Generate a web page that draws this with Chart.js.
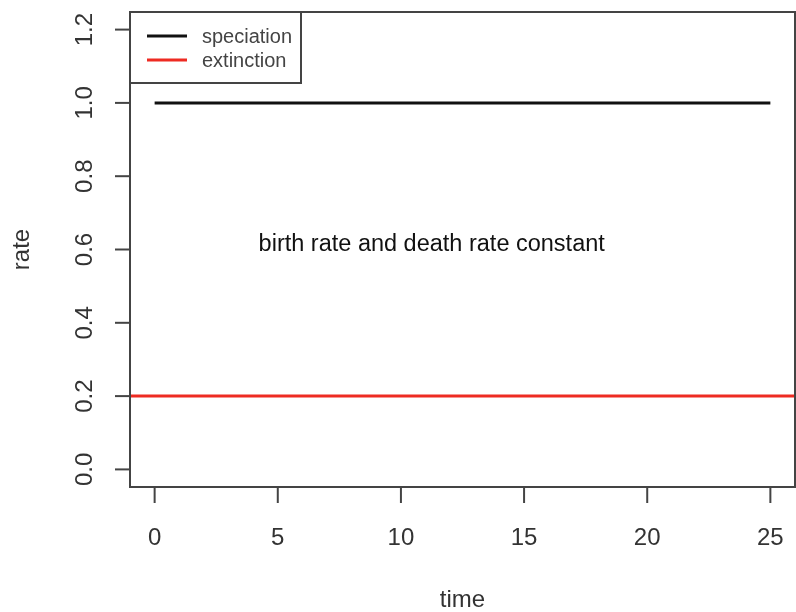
<!DOCTYPE html>
<html lang="en">
<head>
    <meta charset="UTF-8">
    <title>Speciation and extinction rate</title>
    <script src="https://cdn.jsdelivr.net/npm/chart.js@4.4.1/dist/chart.umd.min.js"></script>
    <style>
        html, body { margin: 0; padding: 0; background: #fff; overflow: hidden; }
        canvas { display: block; }
    </style>
</head>
<body>
    <canvas id="rate-chart" width="796" height="612"></canvas>

    <script>
        // data
        const speciationTime = [0, 25];
        const speciationRate = [1.0, 1.0];
        const extinctionTime = [-1, 26];   // abline across the whole box
        const extinctionRate = [0.2, 0.2];

        const xTicks = [0, 5, 10, 15, 20, 25];
        const xTickLabels = ['0', '5', '10', '15', '20', '25'];
        const yTicks = [0, 0.2, 0.4, 0.6, 0.8, 1.0, 1.2];
        const yTickLabels = ['0.0', '0.2', '0.4', '0.6', '0.8', '1.0', '1.2'];

        const legendLabels = ['speciation', 'extinction'];
        const legendColors = ['#111111', '#ee2b22'];

        const noteText = 'birth rate and death rate constant';
        const noteX = 11.25;
        const noteY = 0.596;

        const FONT = '"Liberation Sans", Arial, Helvetica, sans-serif';
        const AXIS_COLOR = '#444';

        function toPoints(xs, ys) {
            return xs.map((x, i) => ({ x, y: ys[i] }));
        }

        const rPlot = {
            id: 'rPlot',
            afterDatasetsDraw(chart) {
                const ctx = chart.ctx;
                const area = chart.chartArea;
                const xs = chart.scales.x;
                const ys = chart.scales.y;

                ctx.save();
                ctx.strokeStyle = AXIS_COLOR;
                ctx.lineWidth = 2;
                ctx.strokeRect(area.left, area.top, area.right - area.left, area.bottom - area.top);

                // x ticks and labels
                ctx.fillStyle = '#333';
                ctx.font = '24px ' + FONT;
                ctx.textAlign = 'center';
                ctx.textBaseline = 'alphabetic';
                xTicks.forEach((v, i) => {
                    const px = xs.getPixelForValue(v);
                    ctx.beginPath();
                    ctx.moveTo(px, area.bottom);
                    ctx.lineTo(px, area.bottom + 16);
                    ctx.stroke();
                    ctx.fillText(xTickLabels[i], px, 545);
                });

                // y ticks and rotated labels
                yTicks.forEach((v, i) => {
                    const py = ys.getPixelForValue(v);
                    ctx.beginPath();
                    ctx.moveTo(area.left, py);
                    ctx.lineTo(area.left - 15, py);
                    ctx.stroke();
                    ctx.save();
                    ctx.translate(92, py);
                    ctx.rotate(-Math.PI / 2);
                    ctx.fillText(yTickLabels[i], 0, 0);
                    ctx.restore();
                });

                // axis titles
                ctx.textBaseline = 'middle';
                ctx.fillText('time', (area.left + area.right) / 2, 600);
                ctx.save();
                ctx.translate(22, (area.top + area.bottom) / 2);
                ctx.rotate(-Math.PI / 2);
                ctx.fillText('rate', 0, 0);
                ctx.restore();

                // annotation
                ctx.fillStyle = '#111';
                ctx.font = '23.5px ' + FONT;
                ctx.textBaseline = 'alphabetic';
                ctx.fillText(noteText, xs.getPixelForValue(noteX), ys.getPixelForValue(noteY));

                // legend box (top-left)
                const lx = area.left, ly = area.top;
                ctx.fillStyle = '#fff';
                ctx.fillRect(lx, ly, 171, 71);
                ctx.strokeStyle = AXIS_COLOR;
                ctx.lineWidth = 2;
                ctx.strokeRect(lx, ly, 171, 71);
                ctx.font = '20px ' + FONT;
                ctx.textAlign = 'left';
                ctx.textBaseline = 'middle';
                legendLabels.forEach((lab, i) => {
                    const y = ly + 24 + i * 24;
                    ctx.strokeStyle = legendColors[i];
                    ctx.lineWidth = 3;
                    ctx.beginPath();
                    ctx.moveTo(lx + 17, y);
                    ctx.lineTo(lx + 57, y);
                    ctx.stroke();
                    ctx.fillStyle = '#444';
                    ctx.fillText(lab, lx + 72, y + 1);
                });
                ctx.restore();
            }
        };

        new Chart(document.getElementById('rate-chart'), {
            type: 'line',
            data: {
                datasets: [
                    {
                        label: legendLabels[0],
                        data: toPoints(speciationTime, speciationRate),
                        borderColor: legendColors[0],
                        borderWidth: 3,
                        pointRadius: 0
                    },
                    {
                        label: legendLabels[1],
                        data: toPoints(extinctionTime, extinctionRate),
                        borderColor: legendColors[1],
                        borderWidth: 3,
                        pointRadius: 0
                    }
                ]
            },
            options: {
                responsive: false,
                animation: false,
                layout: { padding: { left: 130, top: 12, right: 1, bottom: 125 } },
                plugins: {
                    legend: { display: false },
                    tooltip: { enabled: false }
                },
                scales: {
                    x: { type: 'linear', min: -1, max: 26, display: false },
                    y: { type: 'linear', min: -0.048, max: 1.248, display: false }
                }
            },
            plugins: [rPlot]
        });
    </script>
</body>
</html>
